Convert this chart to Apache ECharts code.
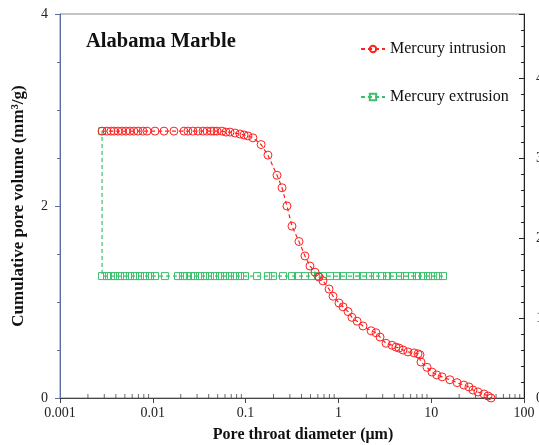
<!DOCTYPE html>
<html>
<head>
<meta charset="utf-8">
<script src="https://cdn.jsdelivr.net/npm/echarts@6/dist/echarts.min.js"></script>
<style>
html, body { margin: 0; padding: 0; background: #fff; }
#chart { width: 539px; height: 445px; }
</style>
</head>
<body>
<div id="chart"></div>
<script>
// 压汞进汞曲线 (pore throat diameter, um)
var intrusionD = [0.00284, 0.00321, 0.00354, 0.00382, 0.00422, 0.00466, 0.00514, 0.00567, 0.00626, 0.00693,
	0.00783, 0.00866, 0.01056, 0.0132, 0.0169, 0.0217, 0.0239, 0.0271, 0.0307, 0.0348,
	0.0384, 0.0424, 0.0456, 0.0492, 0.0557, 0.0615, 0.0679, 0.0769, 0.0871, 0.0962,
	0.106, 0.120, 0.147, 0.174, 0.218, 0.247, 0.279, 0.316, 0.376, 0.436,
	0.494, 0.560, 0.618, 0.682, 0.793, 0.875, 1.014, 1.12, 1.27, 1.40,
	1.59, 1.84, 2.25, 2.54, 2.81, 3.26, 3.78, 4.17, 4.50, 4.97,
	5.62, 6.53, 7.21, 7.57, 7.76, 9.01, 10.2, 11.5, 13.1, 15.9,
	19.0, 22.5, 25.5, 28.2, 31.9, 37.1, 40.9, 44.1];
var intrusionV = [2.78, 2.78, 2.78, 2.78, 2.78, 2.78, 2.78, 2.78, 2.78, 2.78,
	2.78, 2.78, 2.78, 2.78, 2.78, 2.78, 2.78, 2.78, 2.78, 2.78,
	2.78, 2.78, 2.78, 2.78, 2.78, 2.77, 2.77, 2.76, 2.75, 2.74,
	2.73, 2.71, 2.64, 2.53, 2.32, 2.19, 2.00, 1.79, 1.63, 1.48,
	1.375, 1.31, 1.26, 1.22, 1.135, 1.06, 0.99, 0.95, 0.90, 0.84,
	0.80, 0.75, 0.70, 0.68, 0.635, 0.57, 0.55, 0.53, 0.52, 0.50,
	0.48, 0.47, 0.46, 0.45, 0.375, 0.32, 0.27, 0.24, 0.22, 0.19,
	0.16, 0.135, 0.115, 0.083, 0.063, 0.042, 0.021, 0];

// 退汞曲线
var extrusionD = [13.4, 11.8, 10.5, 9.24, 8.16, 7.03, 6.21, 5.22, 4.61, 3.87,
	3.34, 2.95, 2.48, 2.19, 1.84, 1.59, 1.33, 1.12, 0.966, 0.811,
	0.682, 0.603, 0.519, 0.436, 0.367, 0.316, 0.253, 0.197, 0.174, 0.133,
	0.0985, 0.0871, 0.0769, 0.0679, 0.0600, 0.0530, 0.0468, 0.0413, 0.0365, 0.0323,
	0.0285, 0.0258, 0.0234, 0.0211, 0.0187, 0.0135, 0.01056, 0.00933, 0.00824, 0.00728,
	0.00643, 0.00567, 0.00502, 0.00443, 0.00392, 0.00354, 0.00321, 0.00284, 0.00284];
var extrusionV = [1.27, 1.27, 1.27, 1.27, 1.27, 1.27, 1.27, 1.27, 1.27, 1.27,
	1.27, 1.27, 1.27, 1.27, 1.27, 1.27, 1.27, 1.27, 1.27, 1.27,
	1.27, 1.27, 1.27, 1.27, 1.27, 1.27, 1.27, 1.27, 1.27, 1.27,
	1.27, 1.27, 1.27, 1.27, 1.27, 1.27, 1.27, 1.27, 1.27, 1.27,
	1.27, 1.27, 1.27, 1.27, 1.27, 1.27, 1.27, 1.27, 1.27, 1.27,
	1.27, 1.27, 1.27, 1.27, 1.27, 1.27, 1.27, 1.27, 2.78];

var xTicks = [0.001, 0.01, 0.1, 1, 10, 100];
var leftTicks = [0, 2, 4];
var rightTicks = [0, 1, 2, 3, 4];

var serif = '"Liberation Serif", "DejaVu Serif", serif';

function pairs(xs, ys) {
	var out = [];
	for (var i = 0; i < xs.length; i++) out.push([xs[i], ys[i]]);
	return out;
}

// 对数轴次刻度 2..9 x 10^k
var minorTickData = [];
for (var k = 0; k < xTicks.length - 1; k++) {
	for (var m = 2; m <= 9; m++) minorTickData.push([xTicks[k] * m, 0]);
}

var chart = echarts.init(document.getElementById('chart'), null, { renderer: 'canvas' });
var option = {
	animation: false,
	backgroundColor: '#fff',
	title: {
		text: 'Alabama Marble',
		left: 81,
		top: 26,
		textStyle: { fontFamily: serif, fontWeight: 'bold', fontSize: 20.5, color: '#111' }
	},
	legend: {
		orient: 'vertical',
		left: 355,
		top: 36,
		itemGap: 32,
		itemWidth: 24,
		itemHeight: 8,
		textStyle: { fontFamily: serif, fontSize: 16, color: '#111' },
		data: ['Mercury intrusion', 'Mercury extrusion']
	},
	grid: {
		left: 60, right: 15, top: 14, bottom: 47,
		outerBoundsMode: 'none',
		containLabel: false,
		show: true, borderColor: '#888', borderWidth: 1
	},
	xAxis: {
		type: 'log',
		logBase: 10,
		min: xTicks[0],
		max: xTicks[xTicks.length - 1],
		position: 'bottom',
		name: 'Pore throat diameter (\u03bcm)',
		nameLocation: 'middle',
		nameGap: 29,
		nameTextStyle: { fontFamily: serif, fontWeight: 'bold', fontSize: 16, color: '#111', padding: [0, 0, 0, 22] },
		axisLine: { onZero: false, lineStyle: { color: '#444', width: 1 } },
		axisTick: { inside: false, length: 5, lineStyle: { color: '#444' } },
		axisLabel: {
			margin: 8,
			fontFamily: serif, fontSize: 14, color: '#222',
			formatter: function(v) { return String(parseFloat(v.toPrecision(3))); }
		},
		splitLine: { show: false }
	},
	yAxis: [{
		type: 'value',
		min: 0,
		max: 4,
		interval: 2,
		position: 'left',
		name: 'Cumulative pore volume (mm\u00b3/g)',
		nameLocation: 'middle',
		nameGap: 33,
		nameTextStyle: { fontFamily: serif, fontWeight: 'bold', fontSize: 17, color: '#111' },
		axisLine: { show: true, onZero: false, lineStyle: { color: '#5b6ea0', width: 1 } },
		axisTick: { show: true, inside: false, length: 5, lineStyle: { color: '#5b6ea0' } },
		minorTick: { show: true, splitNumber: 4, length: 3, lineStyle: { color: '#5b6ea0' } },
		axisLabel: { margin: 12, fontFamily: serif, fontSize: 14, color: '#222' },
		splitLine: { show: false }
	}, {
		type: 'value',
		min: 0,
		max: 4.8,
		interval: 1,
		position: 'right',
		axisLine: { show: true, onZero: false, lineStyle: { color: '#222', width: 1 } },
		axisTick: { show: true, inside: true, length: 5, lineStyle: { color: '#222' } },
		minorTick: { show: true, splitNumber: 5, length: 3, lineStyle: { color: '#222' } },
		axisLabel: {
			margin: 12, fontFamily: serif, fontSize: 14, color: '#222',
			formatter: function(v) { return rightTicks.indexOf(v) >= 0 ? String(v) : ''; }
		},
		splitLine: { show: false }
	}],
	series: [{
		// x轴次刻度
		name: 'minorTicks',
		type: 'scatter',
		xAxisIndex: 0,
		yAxisIndex: 0,
		data: minorTickData,
		symbol: 'rect',
		symbolSize: [1, 4],
		symbolOffset: [0, -2],
		clip: false,
		silent: true,
		itemStyle: { color: '#444' },
		z: 1
	}, {
		name: 'Mercury extrusion',
		type: 'line',
		xAxisIndex: 0,
		yAxisIndex: 0,
		data: pairs(extrusionD, extrusionV),
		symbol: 'rect',
		symbolSize: 7,
		showAllSymbol: true,
		color: '#3cbf6c',
		itemStyle: { color: 'rgba(255,255,255,0)', borderColor: '#3cbf6c', borderWidth: 1 },
		lineStyle: { color: '#3cbf6c', width: 1.2, type: [4, 3] }
	}, {
		name: 'Mercury intrusion',
		type: 'line',
		xAxisIndex: 0,
		yAxisIndex: 0,
		data: pairs(intrusionD, intrusionV),
		symbol: 'circle',
		symbolSize: 8,
		showAllSymbol: true,
		color: '#ff2020',
		itemStyle: { color: 'rgba(255,255,255,0)', borderColor: '#ff2020', borderWidth: 1 },
		lineStyle: { color: '#ff2020', width: 1.2, type: [4, 3] }
	}]
};
chart.setOption(option);
</script>
</body>
</html>
